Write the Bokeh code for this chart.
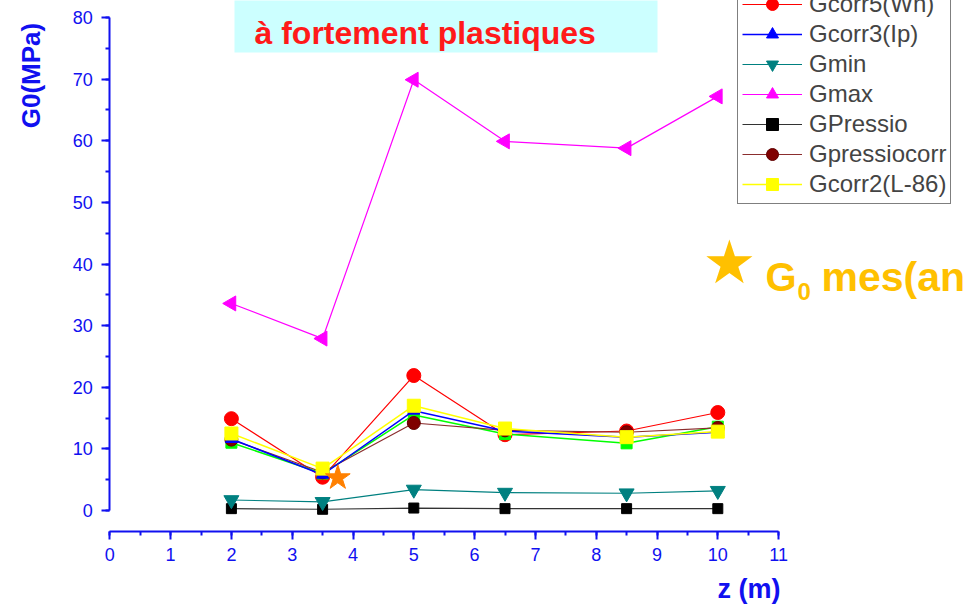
import numpy as np
from bokeh.plotting import figure
from bokeh.models import Range1d, SingleIntervalTicker, Legend, LegendItem, Label, BoxAnnotation
from bokeh.embed import file_html
from bokeh.resources import INLINE

# ---------------- data ----------------
z = [2, 3.5, 5, 6.5, 8.5, 10]
gcorr5 = [14.9, 5.4, 21.9, 12.3, 12.9, 15.9]        # Gcorr5(Wn)
gcorr3 = [11.6, 5.8, 16.2, 12.9, 11.9, 12.7]        # Gcorr3(Ip)
gmin = [1.7, 1.4, 3.4, 2.9, 2.8, 3.2]               # Gmin
gmax = [33.6, 27.9, 69.9, 59.9, 58.8, 67.2]         # Gmax
gpressio = [0.3, 0.2, 0.4, 0.3, 0.3, 0.3]           # GPressio
gpressiocorr = [11.5, 6.2, 14.2, 13.0, 12.7, 13.4]  # Gpressiocorr
gcorr2 = [12.5, 6.8, 17.0, 13.3, 11.9, 12.8]        # Gcorr2(L-86)
gcorr4 = [11.0, 6.0, 15.5, 12.4, 10.9, 13.6]        # green series (legend entry cut off)
g0_mes_z = [3.75]
g0_mes = [5.3]

x_ticks_max = 11
y_ticks_max = 80

# ---------------- layout helpers (canvas pixels -> data) ----------------
W, H = 966, 604
X0_PX, X_PER = 109.3, 60.8
Y0_PX, Y_PER = 510.0, 6.1625
def dx(px):
    return (px - X0_PX) / X_PER
def dy(py):
    return (Y0_PX - py) / Y_PER

BLUE = "#1010F0"
FONT = "Liberation Sans"

p = figure(width=W, height=H, output_backend="svg", toolbar_location=None,
           title_location=None,
           x_range=Range1d(dx(0), dx(W)), y_range=Range1d(dy(H), dy(0)),
           min_border=0, min_border_left=0, min_border_right=0,
           min_border_top=0, min_border_bottom=0)
p.outline_line_color = None
p.grid.visible = False
p.background_fill_color = "white"
p.border_fill_color = "white"

for ax in (p.xaxis[0], p.yaxis[0]):
    ax.axis_line_color = BLUE
    ax.axis_line_width = 2
    ax.major_tick_line_color = BLUE
    ax.major_tick_line_width = 2
    ax.minor_tick_line_color = BLUE
    ax.minor_tick_line_width = 2
    ax.major_tick_in = 0
    ax.major_tick_out = 8
    ax.minor_tick_in = 0
    ax.minor_tick_out = 4
    ax.major_label_text_color = BLUE
    ax.major_label_text_font = FONT
    ax.major_label_text_font_size = "18px"
    ax.major_label_standoff = 9
p.xaxis[0].bounds = (0, x_ticks_max)
p.xaxis[0].fixed_location = dy(530.7)
p.xaxis[0].ticker = SingleIntervalTicker(interval=1, num_minor_ticks=2)
p.yaxis[0].bounds = (0, y_ticks_max)
p.yaxis[0].fixed_location = 0
p.yaxis[0].ticker = SingleIntervalTicker(interval=10, num_minor_ticks=2)

# title box
p.add_layout(BoxAnnotation(left=dx(234), right=dx(657), bottom=dy(52), top=dy(-30),
                           fill_color="#CCFFFF", fill_alpha=1, line_color=None))
p.add_layout(Label(x=dx(254), y=dy(32), text="à fortement plastiques",
                   text_font=FONT, text_font_style="bold", text_font_size="32px",
                   text_color="#FF1A1A", text_baseline="alphabetic", text_align="left"))

# ---------------- series ----------------
def series(vals, line_color, marker, size, fill, lw=1.2, angle=0.0, mline=None):
    rl = p.line(z, vals, line_color=line_color, line_width=lw)
    rs = p.scatter(z, vals, marker=marker, size=size, fill_color=fill,
                   line_color=mline if mline else fill, angle=angle)
    return [rl, rs]

r_gmax = series(gmax, "#FF00FF", "triangle", 15, "#FF00FF", angle=np.pi / 2)
r_gpressio = series(gpressio, "#333333", "square", 10, "#000000")
r_gmin = series(gmin, "#008080", "inverted_triangle", 15, "#008080")
r_gcorr5 = series(gcorr5, "#FF0000", "circle", 14, "#FF0000")
r_gcorr4 = series(gcorr4, "#00FF00", "square", 11, "#00FF00", lw=1.5)
r_gpc = series(gpressiocorr, "#8B2E2E", "circle", 13, "#800000", mline="#600000")
r_gcorr3 = series(gcorr3, "#0000FF", "triangle", 12, "#0000FF", lw=1.5)
r_gcorr2 = series(gcorr2, "#FFFF00", "square", 13, "#FFFF00", lw=1.5)

p.scatter(g0_mes_z, g0_mes, marker="star", size=26, fill_color="#FF8000", line_color="#FF8000")

legend = Legend(items=[
    LegendItem(label="Gcorr5(Wn)", renderers=r_gcorr5),
    LegendItem(label="Gcorr3(Ip)", renderers=r_gcorr3),
    LegendItem(label="Gmin", renderers=r_gmin),
    LegendItem(label="Gmax", renderers=r_gmax),
    LegendItem(label="GPressio", renderers=r_gpressio),
    LegendItem(label="Gpressiocorr", renderers=r_gpc),
    LegendItem(label="Gcorr2(L-86)", renderers=r_gcorr2),
], location=(737, H - 204), border_line_color="black", border_line_width=1,
   background_fill_color="white", background_fill_alpha=1,
   label_text_font=FONT, label_text_font_size="24px",
   glyph_width=60, glyph_height=30, label_height=30, spacing=0, padding=4,
   margin=0, label_standoff=7)
p.add_layout(legend)

# axis titles
p.add_layout(Label(x=dx(30), y=dy(75), text="G0(MPa)", angle=np.pi / 2,
                   text_font=FONT, text_font_style="bold", text_font_size="26px",
                   text_color=BLUE, text_align="center", text_baseline="middle"))
p.add_layout(Label(x=dx(780), y=dy(588), text="z (m)",
                   text_font=FONT, text_font_style="bold", text_font_size="27px",
                   text_color=BLUE, text_align="right", text_baseline="middle"))

# G0 measured key
GOLD = "#FFC000"
p.add_layout(Label(x=dx(729), y=dy(261), text="★", text_font="DejaVu Sans",
                   text_font_size="60px", text_color=GOLD,
                   text_align="center", text_baseline="middle"))
p.add_layout(Label(x=dx(765), y=dy(276), text="G", text_font=FONT, text_font_style="bold",
                   text_font_size="40px", text_color=GOLD, text_baseline="alphabetic"))
p.add_layout(Label(x=dx(797), y=dy(291), text="0", text_font=FONT, text_font_style="bold",
                   text_font_size="24px", text_color=GOLD, text_baseline="alphabetic"))
p.add_layout(Label(x=dx(821), y=dy(276), text="mes(an", text_font=FONT, text_font_style="bold",
                   text_font_size="41px", text_color=GOLD, text_baseline="alphabetic"))

open("out.html", "w").write(file_html(p, INLINE))
